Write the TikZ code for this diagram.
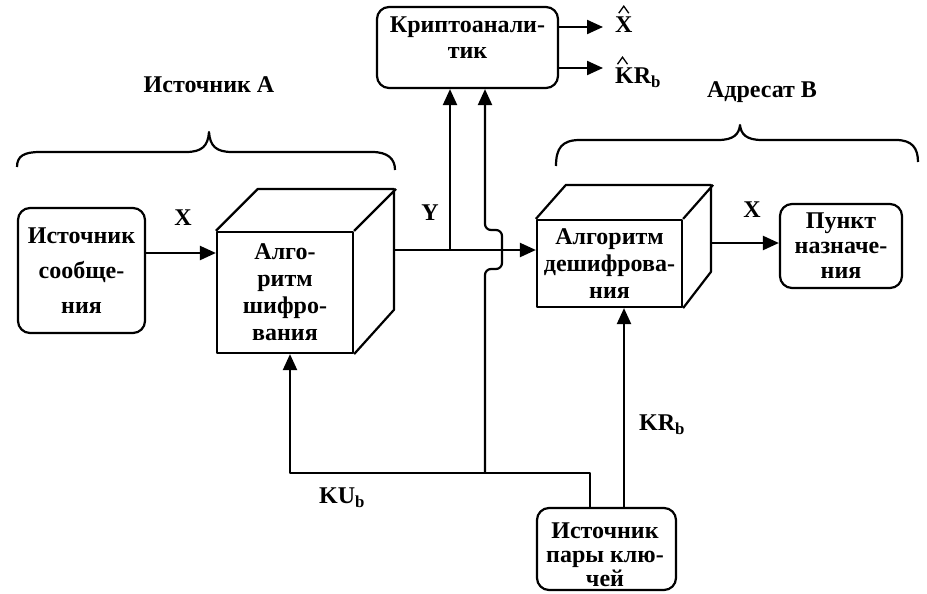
\documentclass[tikz,border=0pt]{standalone}
\usepackage{fontspec}
\setmainfont{Liberation Serif}
\usetikzlibrary{arrows.meta}
\begin{document}
\begin{tikzpicture}[x=1pt,y=-1pt,line width=2.2pt,line join=round,
  every node/.style={font=\bfseries\fontsize{24}{27}\selectfont},
  box/.style={draw,rounded corners=12pt,align=center,inner sep=0pt},
  face/.style={draw,align=center,inner sep=0pt,fill=white},
  txt/.style={align=center,inner sep=0pt},
  arr/.style={-{Triangle[length=16pt,width=14pt]}},
  hat/.style={line width=1.3pt,line join=miter},
  lbl/.style={inner sep=0pt}]
\useasboundingbox (0,0) rectangle (927,594);

% blocks
\node[box,minimum width=127pt,minimum height=125pt,
      font=\bfseries\fontsize{24}{35}\selectfont] (src) at (81.5,270.5) {Источник\\сообще-\\ния};
\node[box,minimum width=181pt,minimum height=81pt] (crypto) at (467.5,47.5) {};
\node[txt,font=\bfseries\fontsize{24}{26}\selectfont] (cryptotext) at (467.5,38) {Криптоанали-\\тик};
\node[box,minimum width=122pt,minimum height=84pt,
      font=\bfseries\fontsize{24}{25}\selectfont] (dest) at (841,246) {Пункт\\назначе-\\ния};
\node[box,minimum width=139pt,minimum height=82pt] (keysrc) at (606.5,549) {};
\node[txt,font=\bfseries\fontsize{24}{24}\selectfont] (keytext) at (605,555) {Источник\\пары клю-\\чей};

% encryption cube
\node[face,minimum width=136pt,minimum height=121pt] (c1) at (285,292.5) {Алго-\\ритм\\шифро-\\вания};
\draw (c1.north west) -- ++(42,-42) -- ++(136,0) -- ++(0,121) -- (c1.south east)
      (c1.north east) -- ++(42,-42);
% decryption cube
\node[face,minimum width=145pt,minimum height=87pt] (c2) at (609.5,263.5) {Алгоритм\\дешифрова-\\ния};
\draw (c2.north west) -- ++(30,-34) -- ++(145,0) -- ++(0,87) -- (c2.south east)
      (c2.north east) -- ++(30,-34);

% braces with group titles
\draw (17,167) .. controls (17,156) and (24,152) .. (40,152) -- (186,152)
      .. controls (202,152) and (208,146) .. (209,132)
      .. controls (210,146) and (216,152) .. (232,152) -- (372,152)
      .. controls (388,152) and (395,159) .. (395,170);
\node[lbl] (srcA) at (209,85) {Источник А};
\draw (556,166) .. controls (556,148) and (562,140) .. (580,140) -- (718,140)
      .. controls (734,140) and (739,134) .. (740,125)
      .. controls (741,134) and (746,140) .. (762,140) -- (896,140)
      .. controls (912,140) and (918,148) .. (918,162);
\node[lbl] (dstB) at (762,92) {Адресат В};

% message path
\node[lbl] (lx1) at (183,218) {X};
\coordinate (xin) at (145,253);
\draw[arr] (src.east |- xin) -- (c1.west |- xin);
\node[lbl] (ly) at (430,213) {Y};
\coordinate (yout) at (395,250);
\coordinate (yj) at (450,250);
\draw[arr] (yout) -- (c2.west |- yout);
\draw[arr] (yj) -- (yj |- crypto.south);
\node[lbl] (lx2) at (752,210) {X};
\coordinate (xout) at (712,243);
\draw[arr] (xout) -- (dest.west |- xout);

% cryptanalyst results: estimates marked with a circumflex
\node[lbl,anchor=base west] (xhat) at (614,33) {X};
\node[lbl,anchor=base west] (krhat) at (614,84) {KR\textsubscript{b}};
\draw[hat] ([xshift=-5pt,yshift=3pt]xhat.north) -- ++(5,-7) -- ++(5,7);
\draw[hat] ([xshift=3.5pt,yshift=3pt]krhat.north west) -- ++(5,-7) -- ++(5,7);
\coordinate (xo) at (558,27);
\coordinate (kro) at (558,68);
\draw[arr] (xo) -- ++(45,0);
\draw[arr] (kro) -- ++(45,0);

% key distribution
\coordinate (ku) at (590,473);
\coordinate (kul) at (290,473);
\coordinate (kub) at (485,473);
\coordinate (kr) at (624,0);
\draw[arr] (keysrc.north -| ku) -- (ku) -- (kul) -- (kul |- c1.south);
\draw[arr,rounded corners=6pt] (kub) -- (485,269) -- (502,269) -- (502,230) -- (485,230)
      -- (kub |- crypto.south);
\draw[arr] (keysrc.north -| kr) -- (kr |- c2.south);
\node[lbl] (lkr) at (662,425) {KR\textsubscript{b}};
\node[lbl] (lku) at (342,498) {KU\textsubscript{b}};
\end{tikzpicture}
\end{document}
